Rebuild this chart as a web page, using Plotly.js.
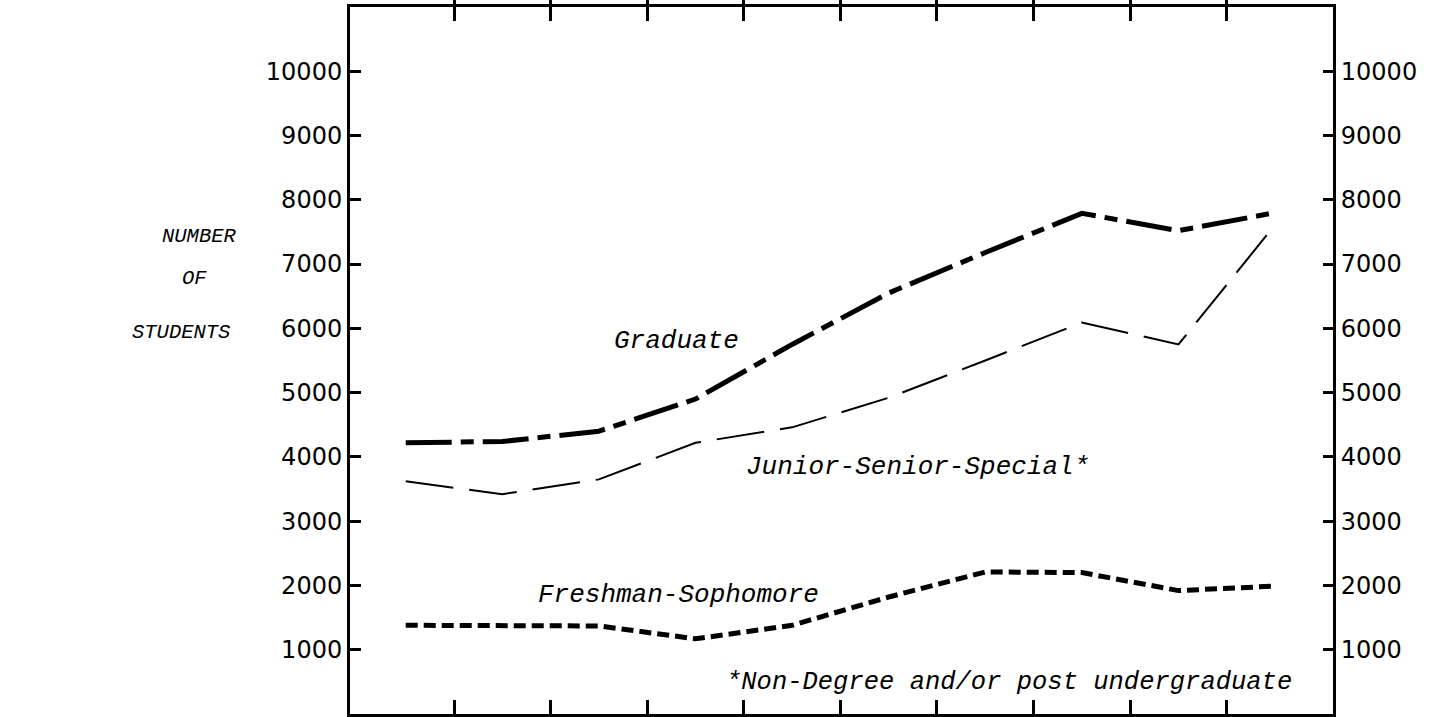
<!DOCTYPE html>
<html>
<head>
<meta charset="utf-8">
<script src="https://cdn.plot.ly/plotly-3.0.1.min.js"></script>
<style>
html,body{margin:0;padding:0;background:#fff;}
#chart{width:1430px;height:717px;}
</style>
</head>
<body>
<div id="chart"></div>
<script>
// Period index (ten consecutive years; the reference has no x tick labels)
const periods = [0, 1, 2, 3, 4, 5, 6, 7, 8, 9];
// Number of students per group
const graduate = [4220, 4240, 4400, 4900, 5750, 6550, 7180, 7790, 7520, 7800];
const juniorSenior = [3620, 3420, 3650, 4220, 4460, 4920, 5500, 6090, 5750, 7610];
const freshmanSophomore = [1380, 1380, 1370, 1170, 1380, 1820, 2210, 2200, 1920, 1990];
// Axis tick labels
const yTickVals = [1000, 2000, 3000, 4000, 5000, 6000, 7000, 8000, 9000, 10000];
const yTickText = ['1000', '2000', '3000', '4000', '5000', '6000', '7000', '8000', '9000', '10000'];
const seriesNames = ['Graduate', 'Junior-Senior-Special*', 'Freshman-Sophomore'];
const footnote = '*Non-Degree and/or post undergraduate';
const yTitleLines = ['NUMBER', 'OF', 'STUDENTS'];

const traces = [
  {x: periods, y: graduate, name: seriesNames[0], mode: 'lines', xaxis: 'x', yaxis: 'y',
   line: {color: '#000', width: 5, dash: '46px,9px,13px,9px'}, hoverinfo: 'skip'},
  {x: periods, y: juniorSenior, name: seriesNames[1], mode: 'lines', xaxis: 'x', yaxis: 'y2',
   line: {color: '#000', width: 2, dash: '48px,16px'}, hoverinfo: 'skip'},
  {x: periods, y: freshmanSophomore, name: seriesNames[2], mode: 'lines', xaxis: 'x', yaxis: 'y',
   line: {color: '#000', width: 5, dash: '12px,6px'}, hoverinfo: 'skip'}
];

const annFont = {family: '"Liberation Mono", "Courier New", monospace', size: 26, color: '#000'};
const sideFont = {family: '"Liberation Mono", "Courier New", monospace', size: 20.5, color: '#000'};

function ann(x, y, text, font, xref, yref) {
  return {x: x, y: y, xref: xref || 'x', yref: yref || 'y', text: '<i>' + text + '</i>',
          showarrow: false, font: font, xanchor: 'center', yanchor: 'middle'};
}

const layout = {
  width: 1430, height: 717,
  margin: {l: 350, r: 97, t: 7, b: 3, pad: 0},
  paper_bgcolor: '#fff', plot_bgcolor: '#fff',
  showlegend: false,
  xaxis: {
    range: [-0.577, 9.6], showgrid: false, zeroline: false,
    showline: true, linecolor: '#000', linewidth: 3, mirror: 'allticks',
    ticks: 'inside', ticklen: 14, tickwidth: 3, tickcolor: '#000',
    tickmode: 'array', tickvals: [0.5, 1.5, 2.5, 3.5, 4.5, 5.5, 6.5, 7.5, 8.5],
    showticklabels: false, fixedrange: true
  },
  yaxis: {
    range: [0, 11000], showgrid: false, zeroline: false,
    showline: true, linecolor: '#000', linewidth: 3,
    ticks: 'inside', ticklen: 11, tickwidth: 3, tickcolor: '#000',
    tickmode: 'array', tickvals: yTickVals, ticktext: yTickText,
    tickfont: {family: '"DejaVu Sans", sans-serif', size: 24, color: '#000'},
    ticklabelstandoff: 0, fixedrange: true
  },
  yaxis2: {
    range: [0, 11000], overlaying: 'y', side: 'right', anchor: 'x',
    showgrid: false, zeroline: false,
    showline: true, linecolor: '#000', linewidth: 3,
    ticks: 'inside', ticklen: 10, tickwidth: 3, tickcolor: '#000',
    tickmode: 'array', tickvals: yTickVals, ticktext: yTickText,
    tickfont: {family: '"DejaVu Sans", sans-serif', size: 24, color: '#000'},
    ticklabelstandoff: 0, fixedrange: true
  },
  annotations: [
    ann(2.80, 5800, seriesNames[0], annFont),
    ann(5.30, 3843, seriesNames[1], annFont),
    ann(2.82, 1855, seriesNames[2], annFont),
    ann(6.25, 488, footnote, Object.assign({}, annFont, {size: 25.5})),
    ann(-0.1526, 0.676, yTitleLines[0], sideFont, 'paper', 'paper'),
    ann(-0.158, 0.616, yTitleLines[1], sideFont, 'paper', 'paper'),
    ann(-0.172, 0.539, yTitleLines[2], sideFont, 'paper', 'paper')
  ]
};

Plotly.newPlot('chart', traces, layout, {displayModeBar: false, staticPlot: true});
</script>
</body>
</html>
